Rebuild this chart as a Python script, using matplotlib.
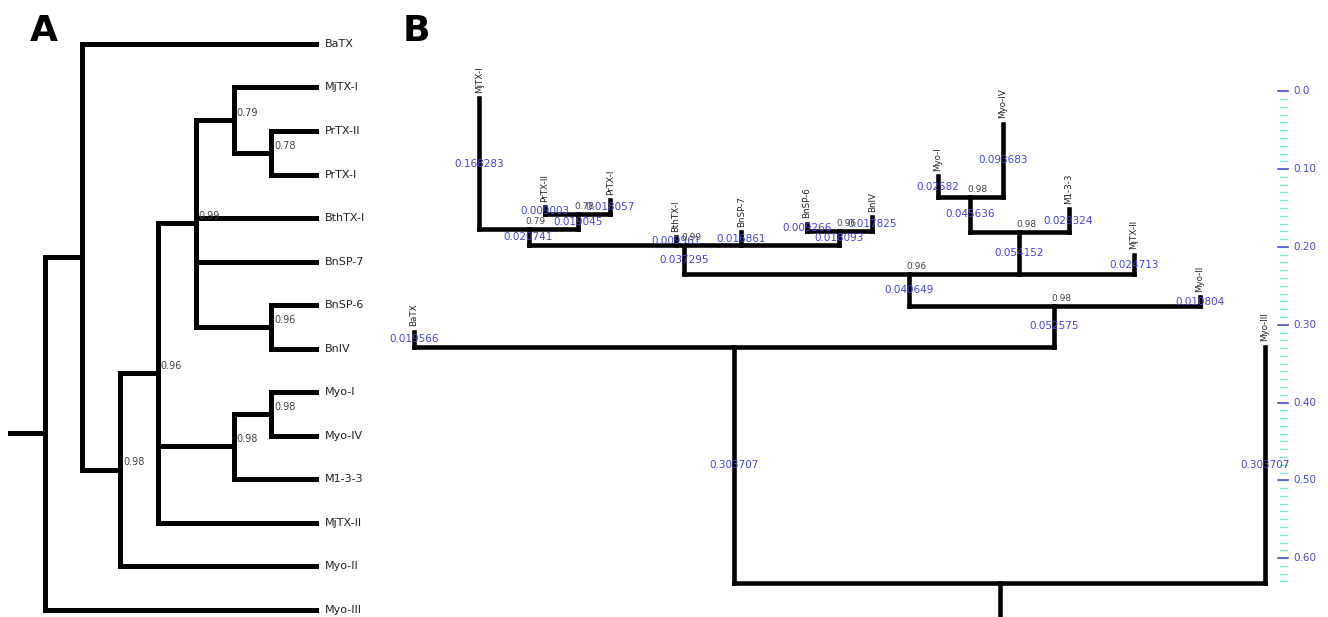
import matplotlib
matplotlib.use('Agg')
import matplotlib.pyplot as plt
import matplotlib.transforms as mtransforms
import numpy as np

# tips of the tree, top-to-bottom (A) / left-to-right (B)
tip_names = ['BaTX', 'MjTX-I', 'PrTX-II', 'PrTX-I', 'BthTX-I', 'BnSP-7', 'BnSP-6',
             'BnIV', 'Myo-I', 'Myo-IV', 'M1-3-3', 'MjTX-II', 'Myo-II', 'Myo-III']
tip_lengths = [0.019566, 0.168283, 0.009003, 0.018057, 0.009961, 0.016861, 0.009266,
               0.017825, 0.02582, 0.093683, 0.029324, 0.024713, 0.010804, 0.303707]

# internal clades: children, branch length to parent, support value
clade_names = ['PrTX', 'MjTX', 'Bn', 'MyoI_IV', 'Myo', 'BthTX', 'Core', 'MyoII', 'Outer', 'root']
clade_children = [['PrTX-II', 'PrTX-I'],
                  ['MjTX-I', 'PrTX'],
                  ['BnSP-6', 'BnIV'],
                  ['Myo-I', 'Myo-IV'],
                  ['MyoI_IV', 'M1-3-3'],
                  ['MjTX', 'BthTX-I', 'BnSP-7', 'Bn'],
                  ['BthTX', 'Myo', 'MjTX-II'],
                  ['Core', 'Myo-II'],
                  ['BaTX', 'MyoII'],
                  ['Outer', 'Myo-III']]
clade_lengths = [0.019045, 0.020741, 0.018093, 0.045636, 0.054152, 0.037295,
                 0.040649, 0.052575, 0.303707, 0.0]
clade_support = ['0.78', '0.79', '0.96', '0.98', '0.98', '0.99', '0.96', '0.98', '', '']

# scale bar of panel B
scale_major = [0.0, 0.1, 0.2, 0.3, 0.4, 0.5, 0.6]
scale_labels = ['0.0', '0.10', '0.20', '0.30', '0.40', '0.50', '0.60']

BLUE = '#4444e0'
GREY = '#444444'

children = dict(zip(clade_names, clade_children))
length = dict(zip(tip_names, tip_lengths))
length.update(zip(clade_names, clade_lengths))
support = dict(zip(clade_names, clade_support))

# ---- layout of the nodes ----
order = {}
height = {}
def walk(n):
    if n not in children:
        order[n] = len(order)
        height[n] = 0
        return
    for c in children[n]:
        walk(c)
    height[n] = 1 + max(height[c] for c in children[n])
walk('root')

pos = {}      # leaf-order position (y in A, x in B)
def place(n):
    if n not in children:
        pos[n] = order[n]
    else:
        for c in children[n]:
            place(c)
        ks = [pos[c] for c in children[n]]
        pos[n] = (min(ks) + max(ks)) / 2.0
place('root')

depth = {'root': 0.0}
def deepen(n):
    for c in children.get(n, []):
        depth[c] = depth[n] + length[c]
        deepen(c)
deepen('root')

TIP_X = 0.18
def xa(n):
    return TIP_X if n not in children else -height[n]

fig = plt.figure(figsize=(13.28, 6.17), dpi=100)

# ---------------- panel A : cladogram ----------------
axA = fig.add_axes([0, 0, 380 / 1328, 1])
axA.set_xlim(-8.18, 1.87)
axA.set_ylim(13.17, -1.011)
axA.axis('off')
lwA = 3.6
for n in clade_names:
    ys = [pos[c] for c in children[n]]
    axA.plot([xa(n), xa(n)], [min(ys), max(ys)], color='black', lw=lwA,
             solid_capstyle='projecting')
    for c in children[n]:
        axA.plot([xa(n), xa(c)], [pos[c], pos[c]], color='black', lw=lwA,
                 solid_capstyle='projecting')
    if support[n]:
        axA.annotate(support[n], (xa(n), pos[n]), xytext=(2, 1.5), textcoords='offset points',
                     ha='left', va='bottom', fontsize=7, color=GREY)
axA.plot([xa('root') - 0.92, xa('root')], [pos['root'], pos['root']], color='black', lw=lwA)
for t in tip_names:
    axA.annotate(t, (TIP_X, pos[t]), xytext=(6.5, 0), textcoords='offset points',
                 ha='left', va='center', fontsize=8, color='#222222')

# ---------------- panel B : phylogram ----------------
axB = fig.add_axes([380 / 1328, 0, 948 / 1328, 1])
axB.set_xlim(-0.519, 13.963)
axB.set_ylim(-0.0437, 0.7494)
axB.axis('off')
lwB = 3.3
for n in clade_names:
    xs = [pos[c] for c in children[n]]
    axB.plot([min(xs), max(xs)], [depth[n], depth[n]], color='black', lw=lwB,
             solid_capstyle='projecting', zorder=2)
    for c in children[n]:
        axB.plot([pos[c], pos[c]], [depth[n], depth[c]], color='black', lw=lwB,
                 solid_capstyle='projecting', zorder=2)
        axB.text(pos[c], (depth[n] + depth[c]) / 2.0, '{:g}'.format(length[c]),
                 ha='center', va='center', fontsize=7.5, color=BLUE, zorder=3)
    if support[n]:
        axB.annotate(support[n], (pos[n], depth[n]), xytext=(-2, 2), textcoords='offset points',
                     ha='left', va='bottom', fontsize=6.5, color=GREY, zorder=3)
axB.plot([pos['root'], pos['root']], [depth['root'], -0.041], color='black', lw=lwB)
for t in tip_names:
    axB.annotate(t, (pos[t], depth[t]), xytext=(0, 4), textcoords='offset points',
                 ha='center', va='bottom', rotation=90, fontsize=6.3, color='#222222')

# scale bar: distance from the top of the tree
D0 = 0.632
tr = mtransforms.blended_transform_factory(axB.transAxes, axB.transData)
for v in np.arange(0, 0.6351, 0.01):
    axB.plot([0.949, 0.957], [D0 - v, D0 - v], color='#80e6d4', lw=1.0, transform=tr)
for v, lab in zip(scale_major, scale_labels):
    axB.plot([0.947, 0.958], [D0 - v, D0 - v], color='#5050d8', lw=1.2, transform=tr)
    axB.text(0.963, D0 - v, lab, transform=tr, ha='left', va='center',
             fontsize=7.5, color='#4848d8')

fig.text(30 / 1328, 1 - 14 / 617, 'A', fontsize=26, fontweight='bold', ha='left', va='top')
fig.text(403 / 1328, 1 - 14 / 617, 'B', fontsize=26, fontweight='bold', ha='left', va='top')

fig.savefig('out.png', dpi=100)
